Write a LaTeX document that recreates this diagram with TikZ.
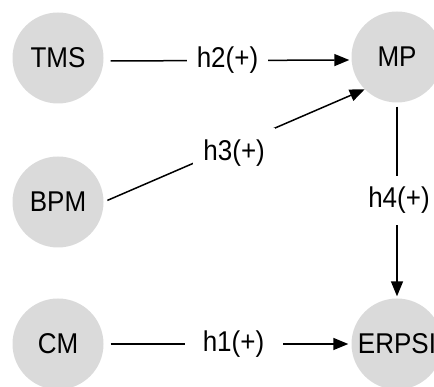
\documentclass[tikz,border=0pt]{standalone}
\usepackage{fontspec}
\setmainfont{Liberation Sans}
\usetikzlibrary{arrows.meta}
\definecolor{nodegray}{RGB}{218,218,218}
% slightly condensed-looking, taller lettering
\newcommand{\tallword}[1]{\scalebox{1}[1.1]{#1}}
\begin{document}
\begin{tikzpicture}[x=1pt,y=1pt,
  concept/.style={circle, fill=nodegray, minimum size=91pt, inner sep=0pt,
    font=\fontsize{26}{30}\selectfont},
  link/.style={line width=1.5pt, -{Triangle[length=15pt,width=12pt]}},
  lbl/.style={fill=white, inner xsep=10pt, inner ysep=11pt,
    font=\fontsize{26}{30}\selectfont}]
\useasboundingbox (0,0) rectangle (434,387);

% constructs
\node[concept] (TMS)   at (58,329)  {\tallword{TMS}};
\node[concept] (MP)    at (397,330) {\tallword{MP}};
\node[concept] (BPM)   at (58,185)  {\tallword{BPM}};
\node[concept] (CM)    at (58,43)   {\tallword{CM}};
\node[concept] (ERPSI) at (397,43)  {\tallword{ERPSI}};

% hypothesised paths
\draw[link, shorten <=7pt, shorten >=2pt]
  ([yshift=-3pt]TMS.east) -- node[lbl] {\tallword{h2(+)}} ([yshift=-3pt]MP.west);
\draw[link, shorten <=4pt]
  (BPM.east) -- node[lbl, yshift=-7pt] {\tallword{h3(+)}} (MP.225);
\draw[link, shorten <=4pt, shorten >=2pt]
  (MP.south) -- node[lbl, xshift=2pt] {\tallword{h4(+)}} (ERPSI.north);
\draw[link, shorten <=7pt, shorten >=3pt]
  (CM.east) -- node[lbl, xshift=6pt, minimum width=98pt] {\tallword{h1(+)}} (ERPSI.west);
\end{tikzpicture}
\end{document}
